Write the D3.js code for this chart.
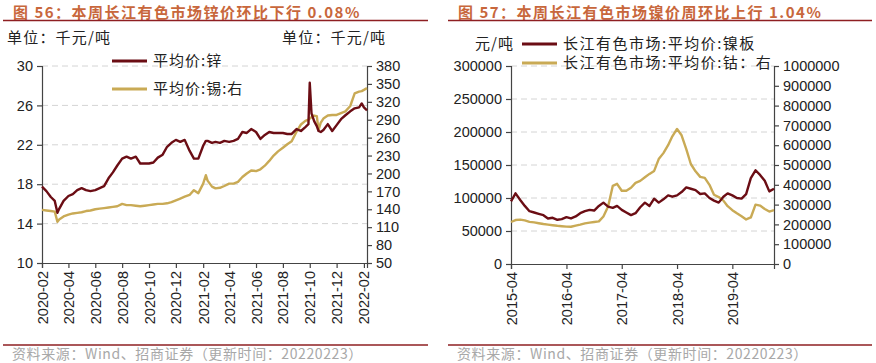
<!DOCTYPE html>
<html lang="zh">
<head>
<meta charset="UTF-8">
<title>锌价 镍价</title>
<style>
  body { margin: 0; background: #fff; }
  svg { display: block; font-family: "Liberation Sans", Arial, sans-serif; }
  .cjk { font-family: "Noto Sans CJK SC", sans-serif; }
</style>
</head>
<body>
<script src="https://cdn.jsdelivr.net/npm/d3@7"></script>
<script>
// ---- 图56 data: 锌 (左轴, 千元/吨) and 锡 (右轴, 千元/吨)
const zincDates = ["2020-02-01","2020-02-11","2020-02-21","2020-03-01","2020-03-07","2020-03-11","2020-03-21",
  "2020-04-01","2020-04-11","2020-04-21","2020-05-01","2020-05-11","2020-05-21","2020-06-01","2020-06-11","2020-06-21",
  "2020-07-01","2020-07-11","2020-07-21","2020-08-01","2020-08-11","2020-08-21","2020-09-01","2020-09-11","2020-09-21",
  "2020-10-01","2020-10-11","2020-10-21","2020-11-01","2020-11-11","2020-11-21","2020-12-01","2020-12-11","2020-12-21",
  "2021-01-01","2021-01-11","2021-01-21","2021-02-01","2021-02-07","2021-02-11","2021-02-21","2021-03-01","2021-03-11","2021-03-21",
  "2021-04-01","2021-04-11","2021-04-21","2021-05-01","2021-05-11","2021-05-21","2021-06-01","2021-06-11","2021-06-21",
  "2021-07-01","2021-07-11","2021-07-21","2021-08-01","2021-08-11","2021-08-21","2021-09-01","2021-09-11","2021-09-21",
  "2021-09-28","2021-10-01","2021-10-05","2021-10-11","2021-10-17","2021-10-21","2021-10-26","2021-11-01","2021-11-11","2021-11-21",
  "2021-12-01","2021-12-11","2021-12-21","2022-01-01","2022-01-11","2022-01-21","2022-01-27","2022-02-01","2022-02-08"];
const zincPrice = [17.75,17.3,16.7,16.3,15.1,15.5,16.3,
  16.8,17.0,17.4,17.6,17.4,17.3,17.4,17.6,17.8,
  18.6,19.2,19.9,20.6,20.8,20.6,20.8,20.1,20.1,
  20.1,20.2,20.7,21.0,21.8,22.2,22.5,22.3,22.5,
  21.4,20.6,20.6,21.9,22.4,22.4,22.2,22.3,22.2,22.4,
  22.3,22.4,22.6,23.3,23.2,23.6,23.3,22.6,23.0,
  23.3,23.2,23.2,23.2,23.1,23.1,23.6,23.4,23.8,
  24.1,28.3,25.2,24.4,23.9,23.4,23.3,23.5,24.1,23.4,
  24.0,24.6,25.0,25.4,25.7,25.8,26.2,25.8,25.5];
const tinPrice = [139,138,137,136,119,123,128,
  131,133,134,135,137,138,140,141,142,
  143,144,145,149,147,147,146,145,146,
  147,148,149,149,150,152,155,158,161,
  164,172,167,183,197,188,178,175,176,179,
  183,183,186,194,200,205,204,207,213,
  221,230,237,243,249,254,270,282,288,
  290,292,294,297,296,273,285,292,297,298,
  298,301,304,313,334,337,338,340,343];
const leftTicksA = [10, 14, 18, 22, 26, 30];
const rightTicksA = [50, 80, 110, 140, 170, 200, 230, 260, 290, 320, 350, 380];

// ---- 图57 data: 镍板 (左轴, 元/吨) and 钴 (右轴, 元/吨)
const niMonths = ["2015-04","2015-05","2015-06","2015-07","2015-08","2015-09","2015-10","2015-11","2015-12",
  "2016-01","2016-02","2016-03","2016-04","2016-05","2016-06","2016-07","2016-08","2016-09","2016-10","2016-11","2016-12",
  "2017-01","2017-02","2017-03","2017-04","2017-05","2017-06","2017-07","2017-08","2017-09","2017-10","2017-11","2017-12",
  "2018-01","2018-02","2018-03","2018-04","2018-05","2018-06","2018-07","2018-08","2018-09","2018-10","2018-11","2018-12",
  "2019-01","2019-02","2019-03","2019-04","2019-05","2019-06","2019-07","2019-08","2019-09","2019-10","2019-11","2019-12","2020-01"];
const nickelPrice = [95000,107000,97000,88000,80000,78000,76000,74000,69000,
  70000,67000,68000,71000,69000,72000,77000,80000,82000,81000,88000,93000,
  87000,85000,88000,82000,78000,74000,77000,86000,93000,88000,99000,93000,
  98000,104000,102000,104000,109000,116000,114000,112000,106000,107000,100000,96000,
  93000,102000,107000,104000,100000,99000,106000,130000,142000,135000,126000,110000,114000];
const cobaltPrice = [212000,222000,224000,220000,213000,210000,206000,202000,199000,
  196000,193000,191000,189000,188000,194000,199000,205000,209000,212000,215000,240000,
  290000,395000,405000,370000,370000,385000,410000,420000,438000,455000,470000,530000,
  560000,600000,645000,682000,650000,580000,505000,468000,440000,435000,400000,350000,
  338000,320000,292000,272000,256000,241000,225000,235000,300000,295000,278000,265000,272000];
const leftTicksB = [0, 50000, 100000, 150000, 200000, 250000, 300000];
const rightTicksB = [0, 100000, 200000, 300000, 400000, 500000, 600000, 700000, 800000, 900000, 1000000];
const xTickDatesB = ["2015-04-01","2016-04-01","2017-04-01","2018-04-01","2019-04-01"];

const darkRed = "#6b0d14", gold = "#c9aa55", titleColor = "#c8673c", ruleColor = "#8e1f22";
const parse = d3.timeParse("%Y-%m-%d");

const svg = d3.select("body").append("svg").attr("width", 876).attr("height", 363);

// ---- frame: titles, rules, source
function frame(x0, x1, title) {
  svg.append("text").attr("class", "cjk").attr("x", x0 + 10).attr("y", 18)
    .attr("font-size", 15).attr("font-weight", "bold").attr("letter-spacing", 1.5)
    .attr("fill", titleColor).text(title);
  svg.append("line").attr("x1", x0).attr("x2", x1).attr("y1", 20.5).attr("y2", 20.5)
    .attr("stroke", ruleColor).attr("stroke-width", 1.5);
  svg.append("line").attr("x1", x0).attr("x2", x1).attr("y1", 345).attr("y2", 345)
    .attr("stroke", ruleColor).attr("stroke-width", 1.5);
  svg.append("text").attr("class", "cjk").attr("x", x0 + 9).attr("y", 359)
    .attr("font-size", 14).attr("letter-spacing", 0.6).attr("fill", "#a8a8a8")
    .text("资料来源：Wind、招商证券（更新时间：20220223）");
}
frame(3, 428, "图 56：本周长江有色市场锌价环比下行 0.08%");
frame(448, 872, "图 57：本周长江有色市场镍价周环比上行 1.04%");

function legend(x, y, color, label, spacing) {
  svg.append("line").attr("x1", x).attr("x2", x + 35).attr("y1", y).attr("y2", y)
    .attr("stroke", color).attr("stroke-width", 3);
  svg.append("text").attr("class", "cjk").attr("x", x + 41).attr("y", y + 5)
    .attr("font-size", 15).attr("letter-spacing", spacing).attr("fill", "#222").text(label);
}

function styleAxis(g) {
  g.selectAll("path, line").attr("stroke", "#444").attr("stroke-width", 1.2);
  g.selectAll("text").attr("fill", "#222").attr("font-size", 14.5)
    .attr("font-family", "'Liberation Sans', Arial, sans-serif");
}

// draws one dual-axis panel
function panel(o) {
  const x = d3.scaleTime().domain(o.xDomain).range([o.left, o.right]);
  const yL = d3.scaleLinear().domain(o.yL).range([o.bottom, o.top]);
  const yR = d3.scaleLinear().domain(o.yR).range([o.bottom, o.top]);

  // grid
  svg.append("g").selectAll("line").data(o.leftTicks.filter(d => d !== o.yL[0])).join("line")
    .attr("x1", o.left).attr("x2", o.right).attr("y1", d => yL(d)).attr("y2", d => yL(d))
    .attr("stroke", "#d4d4d4").attr("stroke-dasharray", "6,4");

  const gl = svg.append("g").attr("transform", `translate(${o.left},0)`)
    .call(d3.axisLeft(yL).tickValues(o.leftTicks).tickSize(5).tickPadding(4).tickFormat(d3.format("d")));
  styleAxis(gl);
  const gr = svg.append("g").attr("transform", `translate(${o.right},0)`)
    .call(d3.axisRight(yR).tickValues(o.rightTicks).tickSize(5).tickPadding(4).tickFormat(d3.format("d")));
  styleAxis(gr);
  const gx = svg.append("g").attr("transform", `translate(0,${o.bottom})`)
    .call(d3.axisBottom(x).tickValues(o.xTicks).tickSize(5).tickFormat(d3.timeFormat("%Y-%m")));
  styleAxis(gx);
  gx.selectAll("text").attr("transform", "rotate(-90)").attr("text-anchor", "end")
    .attr("dx", "-8").attr("dy", "0.35em").attr("x", 0).attr("y", 0);

  const lineL = d3.line().x(d => x(d.date)).y(d => yL(d.v));
  const lineR = d3.line().x(d => x(d.date)).y(d => yR(d.v));
  svg.append("path").datum(o.seriesR).attr("d", lineR).attr("fill", "none")
    .attr("stroke", gold).attr("stroke-width", 2.4).attr("stroke-linejoin", "round");
  svg.append("path").datum(o.seriesL).attr("d", lineL).attr("fill", "none")
    .attr("stroke", darkRed).attr("stroke-width", 2.4).attr("stroke-linejoin", "round");
}

// ---- 图56
const datesA = zincDates.map(parse);
const xTicksA = d3.range(0, 13).map(i => d3.timeMonth.offset(parse("2020-02-01"), i * 2));
panel({
  left: 42, right: 367, top: 66, bottom: 263,
  xDomain: [parse("2020-02-01"), parse("2022-02-08")], xTicks: xTicksA,
  yL: [10, 30], yR: [50, 380], leftTicks: leftTicksA, rightTicks: rightTicksA,
  seriesL: datesA.map((d, i) => ({ date: d, v: zincPrice[i] })),
  seriesR: datesA.map((d, i) => ({ date: d, v: tinPrice[i] }))
});
svg.append("text").attr("class", "cjk").attr("x", 7).attr("y", 43).attr("font-size", 15)
  .attr("letter-spacing", 1.2).attr("fill", "#222").text("单位：千元/吨");
svg.append("text").attr("class", "cjk").attr("x", 282).attr("y", 43).attr("font-size", 15)
  .attr("letter-spacing", 1.2).attr("fill", "#222").text("单位：千元/吨");
legend(112, 61, darkRed, "平均价:锌", 1);
legend(112, 89, gold, "平均价:锡:右", 1);

// ---- 图57
const datesB = niMonths.map(m => parse(m + "-01"));
panel({
  left: 511, right: 774, top: 66, bottom: 264,
  xDomain: [parse("2015-04-01"), parse("2020-01-01")], xTicks: xTickDatesB.map(parse),
  yL: [0, 300000], yR: [0, 1000000], leftTicks: leftTicksB, rightTicks: rightTicksB,
  seriesL: datesB.map((d, i) => ({ date: d, v: nickelPrice[i] })),
  seriesR: datesB.map((d, i) => ({ date: d, v: cobaltPrice[i] }))
});
svg.append("text").attr("class", "cjk").attr("x", 475).attr("y", 49).attr("font-size", 15)
  .attr("letter-spacing", 1).attr("fill", "#222").text("元/吨");
legend(522, 44, darkRed, "长江有色市场:平均价:镍板", 1.5);
legend(522, 63, gold, "长江有色市场:平均价:钴：右", 1.5);
</script>
</body>
</html>
